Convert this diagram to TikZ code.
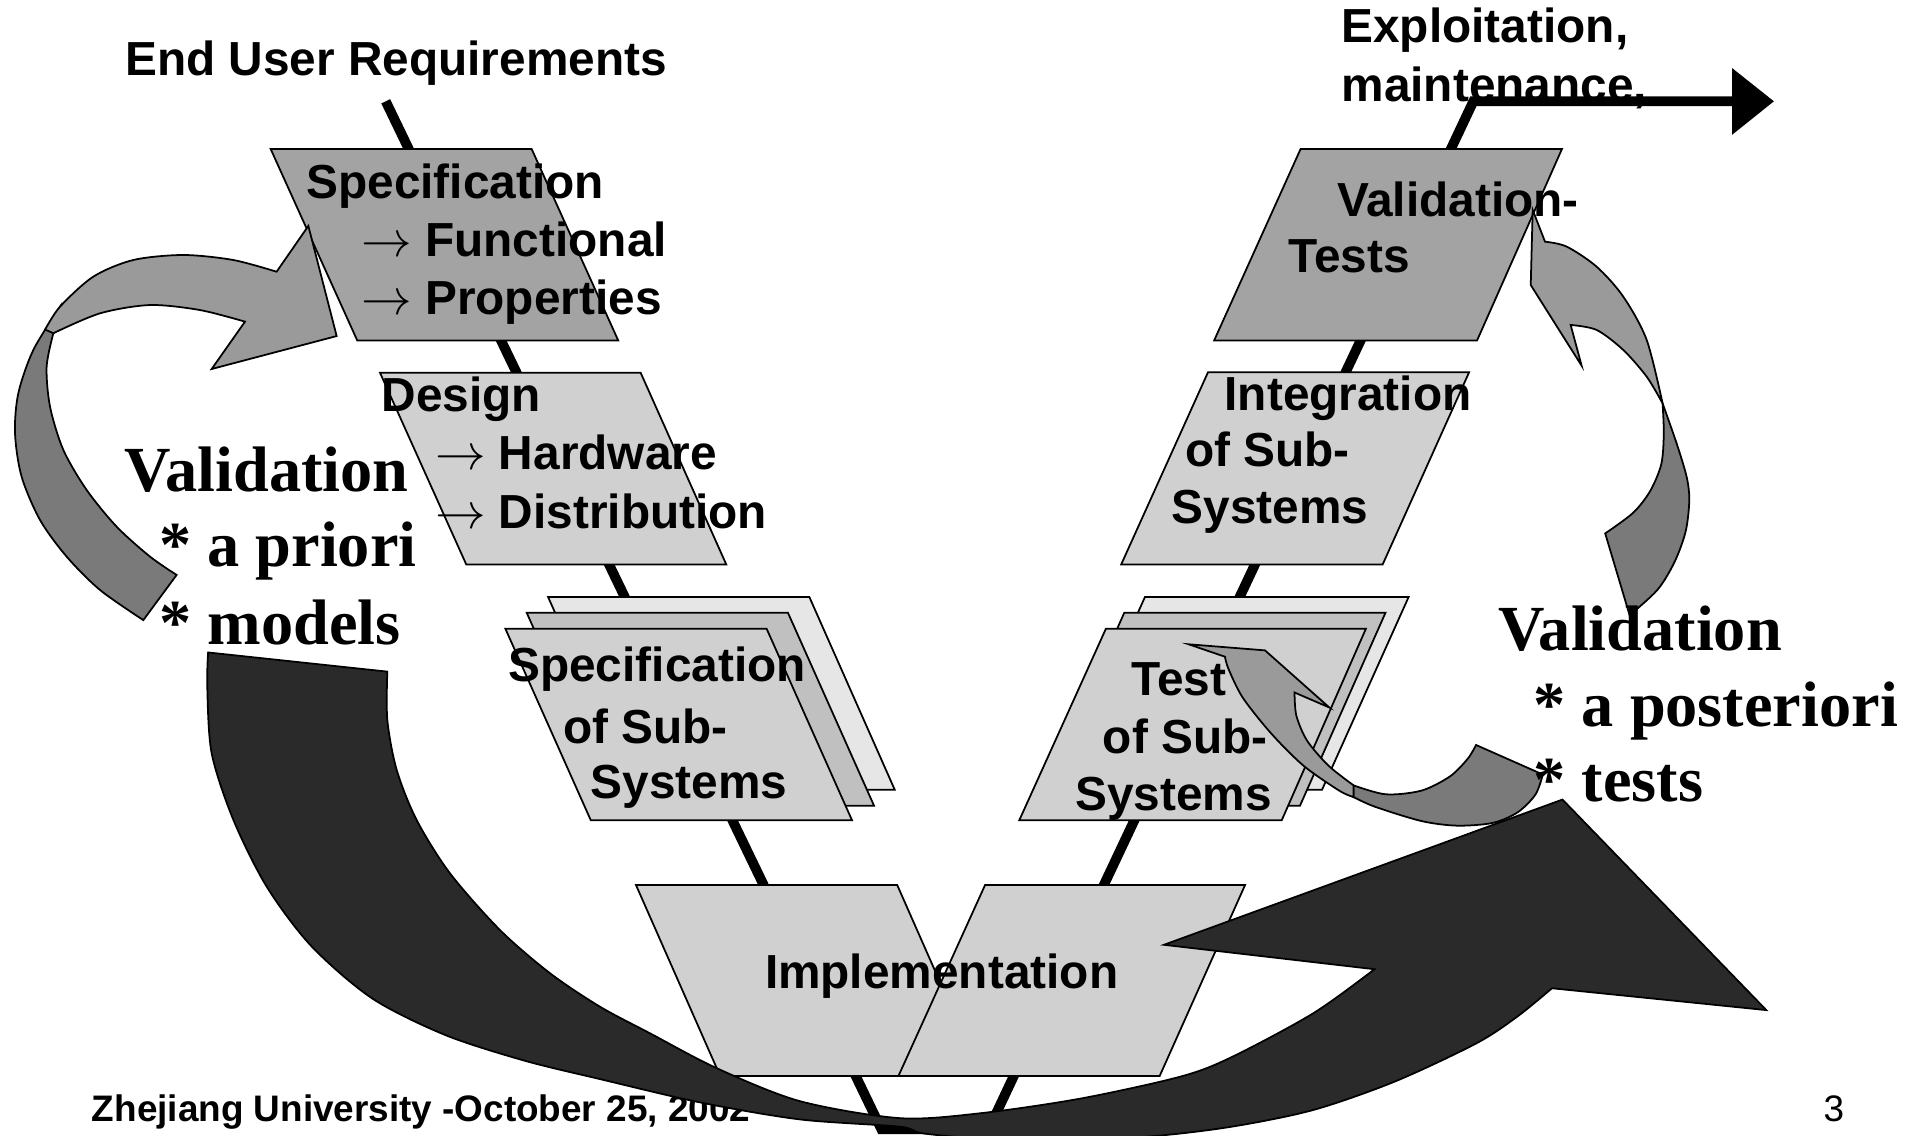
\documentclass[tikz,border=0pt]{standalone}
\usepackage{fontspec}
\setmainfont{Liberation Sans}
\newfontfamily\serifb{Liberation Serif}
\definecolor{boxdark}{HTML}{A3A3A3}
\definecolor{boxlight}{HTML}{D0D0D0}
\definecolor{boxmid}{HTML}{C0C0C0}
\definecolor{boxback}{HTML}{E6E6E6}
\definecolor{arrlight}{HTML}{9A9A9A}
\definecolor{arrdark}{HTML}{7A7A7A}
\definecolor{arrblack}{HTML}{2A2A2A}
\tikzset{
  box/.style={draw=black, line width=0.5pt, line join=miter},
  ribbon/.style={draw=black, line width=0.5pt, line join=miter},
  lbl/.style={anchor=base west, inner sep=0pt, outer sep=0pt, font=\fontsize{13.6}{16}\selectfont\bfseries},
  val/.style={anchor=base west, inner sep=0pt, outer sep=0pt, font=\fontsize{18.3}{21}\selectfont\serifb\bfseries},
  foot/.style={anchor=base west, inner sep=0pt, outer sep=0pt, font=\fontsize{10.5}{12}\selectfont},
  vline/.style={line width=2.8pt, line join=miter},
}
\begin{document}
\begin{tikzpicture}[x=0.012207cm, y=-0.012207cm]
\useasboundingbox[fill=white] (0,0) rectangle (1568,930);

% labels at the top right (under the exit line)
\node[lbl] (expl) at (1099,35) {Exploitation,};
\node[lbl] (maint) at (1099,83) {maintenance,};
\node[lbl] (eur) at (102.5,61.8) {End User Requirements};

% the V line
\coordinate (vtop) at (316,83);
\coordinate (vbl) at (722,925);
\coordinate (vbr) at (810,925);
\coordinate (vtr) at (1207,83);
\coordinate (vend) at (1422,83);
\draw[vline] (vtop) -- (vbl) -- (vbr) -- (vtr) -- (vend);
\fill (1419,55.8) -- (1453.2,83) -- (1419,110.4) -- cycle;

% left branch boxes
\filldraw[box, fill=boxdark] (221.7,122) -- (435.5,122) -- (506.5,279) -- (292.7,279) -- cycle;
\filldraw[box, fill=boxlight] (311.3,305.3) -- (524.8,305.3) -- (595,462.5) -- (382,462.5) -- cycle;
\filldraw[box, fill=boxback] (449,489) -- (663,489) -- (733,647) -- (519,647) -- cycle;
\filldraw[box, fill=boxmid] (431.5,502) -- (645.5,502) -- (716,660) -- (502,660) -- cycle;
\filldraw[box, fill=boxlight] (414,515) -- (628,515) -- (698,672) -- (484,672) -- cycle;

% implementation
\filldraw[box, fill=boxlight] (521,725) -- (735,725) -- (804,881.5) -- (590,881.5) -- cycle;
\filldraw[box, fill=boxlight] (807,725) -- (1020,725) -- (950,881.5) -- (736,881.5) -- cycle;

% right branch boxes
\filldraw[box, fill=boxdark] (1065.5,122) -- (1279.6,122) -- (1210,279) -- (994.6,279) -- cycle;
\filldraw[box, fill=boxlight] (989.6,305) -- (1203.5,305) -- (1132.7,462.4) -- (918.5,462.4) -- cycle;
\filldraw[box, fill=boxback] (938,489) -- (1154,489) -- (1083,647) -- (867,647) -- cycle;
\filldraw[box, fill=boxmid] (921,502) -- (1135,502) -- (1065,660) -- (851,660) -- cycle;
\filldraw[box, fill=boxlight] (906,515) -- (1119,515) -- (1050,672) -- (835,672) -- cycle;

% box texts
\node[lbl] (spec1) at (251,163) {Specification};
\node[lbl] (spec2) at (296,210.3) {$\rightarrow$ Functional};
\node[lbl] (spec3) at (296,258) {$\rightarrow$ Properties};
\node[lbl] (des1) at (312.7,337.2) {Design};
\node[lbl] (des2) at (356.4,385) {$\rightarrow$ Hardware};
\node[lbl] (des3) at (356.4,432.8) {$\rightarrow$ Distribution};
\node[lbl] (ss1) at (416.4,558) {Specification};
\node[lbl] (ss2) at (461.5,609) {of Sub-};
\node[lbl] (ss3) at (484,654) {Systems};
\node[lbl] (impl) at (626.7,809.6) {Implementation};
\node[lbl] (vt1) at (1095.4,177) {Validation-};
\node[lbl] (vt2) at (1055.5,223.2) {Tests};
\node[lbl] (int1) at (1003.2,336) {Integration};
\node[lbl] (int2) at (970.8,382.5) {of Sub-};
\node[lbl] (int3) at (960,428.5) {Systems};
\node[lbl] (ts1) at (927,570) {Test};
\node[lbl] (ts2) at (903.5,617.6) {of Sub-};
\node[lbl] (ts3) at (881,664) {Systems};

% left grey arrow (validation a priori)
\filldraw[ribbon, fill=arrdark] plot[smooth] coordinates {(49.2,251.2) (27.3,286.7) (15,322.2) (12.3,355) (17.7,390.5) (32.8,426) (54.6,456) (81.9,483.3) (117.4,508)}
  -- plot[smooth] coordinates {(144.7,471) (122.9,456) (95.6,431.5) (71,401.4) (51.9,368.6) (41,333.2) (38.2,300.4) (43.7,273)} -- cycle;
\filldraw[ribbon, fill=arrlight] (275.8,275.3) -- (252.6,185.1) -- (226.6,222.6)
  -- plot[smooth] coordinates {(226.6,222.6) (191.1,213) (150.2,208.9) (109.2,213) (76.5,226.6) (49.2,251.2) (37,270)}
  -- plot[smooth] coordinates {(43.7,273) (81.9,256.7) (122.9,249.9) (163.8,254) (200.7,263.5)}
  -- (173.4,302.3) -- cycle;

% right grey arrow (validation a posteriori)
\filldraw[ribbon, fill=arrdark] plot[smooth] coordinates {(1362,330.4) (1373.5,363.2) (1381.7,390.5) (1383.9,409.6) (1381,435) (1372,460) (1358,483) (1335,504)}
  -- plot[smooth] coordinates {(1315,437) (1338,420) (1352,402) (1361,380) (1363,355) (1362,330.4)} -- cycle;
\filldraw[ribbon, fill=arrlight] (1255.6,172) -- (1254,233.5) -- (1295.7,299.6) -- (1286.7,266.2)
  -- plot[smooth] coordinates {(1286.7,266.2) (1308,270.3) (1329.8,286.7) (1349,308.6) (1362,330.4)}
  -- plot[smooth] coordinates {(1362,330.4) (1349,278.5) (1329.8,243) (1308,218.5) (1283.4,202) (1265.7,198)} -- cycle;

% small grey arrow (tests)
\filldraw[ribbon, fill=arrdark] plot[smooth] coordinates {(1108.9,643.4) (1135.2,650.7) (1164.4,647.7) (1187.9,636) (1202.5,621.4) (1209.2,610.3)}
  -- plot[smooth] coordinates {(1263.9,634.5) (1258,650.7) (1243.5,665.3) (1223,674.1) (1193.7,676.4) (1164.4,672.6) (1126.4,660.9) (1108.9,653)} -- cycle;
\filldraw[ribbon, fill=arrlight] (973.7,527.8) -- (1036.3,532.8) -- (1089,579.6) -- (1060.5,567.3)
  -- plot[smooth] coordinates {(1060.5,567.3) (1062,586.3) (1070.8,606.8) (1088.4,627.3) (1108.9,643.4)}
  -- plot[smooth] coordinates {(1108.9,653) (1097.1,647.7) (1067.9,627.3) (1041.5,601) (1018.2,571.7) (1006.5,548.3) (1003.5,538)} -- cycle;

% footer (partly under the big arrow)
\node[foot, font=\fontsize{10.5}{12}\selectfont\bfseries] (footer) at (75.3,918.5) {Zhejiang University -October 25, 2002};
\node[foot] (pageno) at (1494,918.5) {3};

% big black arrow
\filldraw[ribbon, fill=arrblack] (170.5,534.5) -- (317.3,550.2)
  -- plot[smooth] coordinates {(317.3,550.2) (317.3,589.8) (325,630.8) (341.3,671.7) (368.6,715.4) (409.6,761.9) (450.6,797.3) (491.5,824.7) (532.5,846.5) (587,875) (655,902) (737,916) (803,912) (885,900) (967,882) (1009,866) (1076,830) (1126,794)}
  -- (953.5,774) -- (1280,655) -- (1447,827.5) -- (1271.4,809.6)
  -- plot[smooth] coordinates {(1271.4,809.6) (1243,832.8) (1209.5,854.7) (1142.7,886) (1075.9,909.3) (1009,923) (942,931) (850,936) (760,929) (737,923) (655,917) (573,903) (491.5,884) (430,869) (365,848) (305,818) (255,775) (218.5,726.4) (191.2,671.7) (173.4,617.1) (169.8,562.5) (170.5,534.5)}
  -- cycle;

% validation texts
\node[val] (vl1) at (102.4,402.8) {Validation};
\node[val] (vl2) at (130.5,464.2) {* a priori};
\node[val] (vl3) at (130.5,528) {* models};
\node[val] (vr1) at (1227.4,533.3) {Validation};
\node[val] (vr2) at (1256.3,595.4) {* a posteriori};
\node[val] (vr3) at (1256.3,657) {* tests};
\end{tikzpicture}
\end{document}
